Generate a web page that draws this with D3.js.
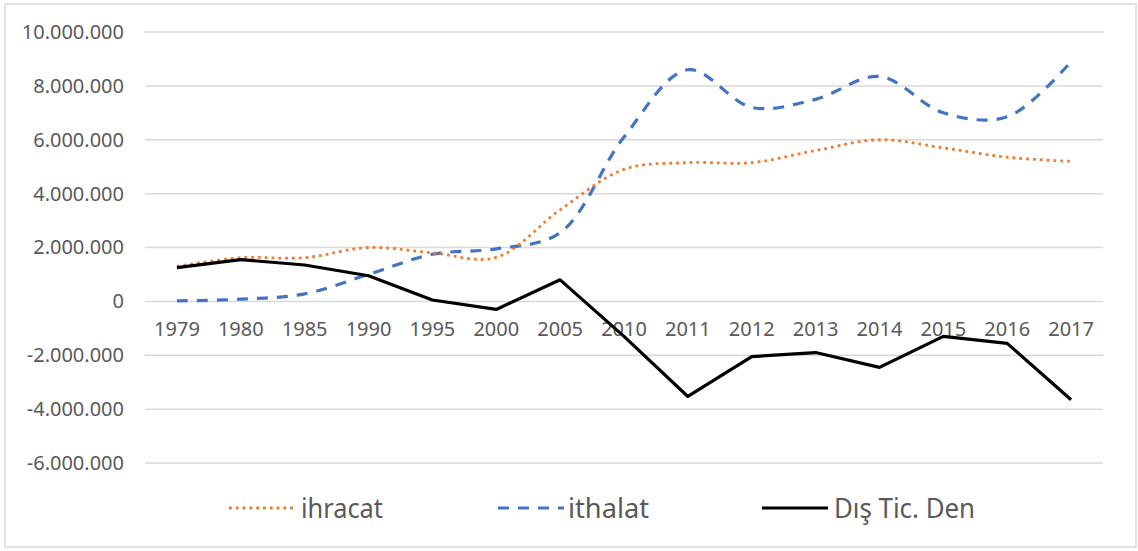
<!DOCTYPE html>
<html><head><meta charset="utf-8">
<script src="https://cdn.jsdelivr.net/npm/d3@7"></script>
<style>body{margin:0;background:#fff;} svg{display:block;}</style>
</head><body>
<svg id="c" width="1138" height="551"></svg>
<script>
const categories = ["1979","1980","1985","1990","1995","2000","2005","2010","2011","2012","2013","2014","2015","2016","2017"];
const ihracat = [1300000,1620000,1620000,2000000,1800000,1630000,3400000,4900000,5150000,5150000,5600000,6000000,5700000,5350000,5200000];
const ithalat = [20000,80000,280000,1000000,1750000,1950000,2550000,6100000,8600000,7200000,7500000,8350000,7000000,6850000,8900000];
const disTicDen = [1250000,1550000,1350000,950000,50000,-300000,800000,-1300000,-3530000,-2050000,-1900000,-2450000,-1300000,-1560000,-3650000];
const yTicks = [-6000000,-4000000,-2000000,0,2000000,4000000,6000000,8000000,10000000];
const seriesNames = ["ihracat","ithalat","Dış Tic. Den"];

const svg = d3.select("#c");
svg.append("rect").attr("x",5).attr("y",4).attr("width",1131).attr("height",543)
  .attr("fill","#fff").attr("stroke","#d9d9d9").attr("stroke-width",1.5);

const x = d3.scaleBand().domain(categories).range([145,1103]);
const y = d3.scaleLinear().domain([-6000000,10000000]).range([463,32]);
const fmt = v => d3.format(",")(v).replace(/,/g,".").replace(/\u2212/g,"-");

// gridlines
svg.append("g").selectAll("line").data(yTicks).join("line")
  .attr("x1",145).attr("x2",1103).attr("y1",d=>y(d)).attr("y2",d=>y(d))
  .attr("stroke","#d9d9d9").attr("stroke-width",1.5);

// y labels
const yAxis = svg.append("g").attr("transform","translate(124,0)")
  .call(d3.axisLeft(y).tickValues(yTicks).tickFormat(fmt).tickSize(0).tickPadding(0));
yAxis.select(".domain").remove();
yAxis.selectAll("text").attr("font-family","'Noto Sans'").attr("font-size",20).attr("fill","#595959");

// x labels at y=0 line
const xAxis = svg.append("g").attr("transform",`translate(0,${y(0)})`)
  .call(d3.axisBottom(x).tickSize(0).tickPadding(20));
xAxis.select(".domain").remove();
xAxis.selectAll("text").attr("font-family","'Noto Sans'").attr("font-size",20).attr("fill","#595959");

const cx = d => x(d) + x.bandwidth()/2;
const mkLine = (vals, curve) => d3.line().x((d,i)=>cx(categories[i])).y(d=>y(d)).curve(curve)(vals);

svg.append("path").attr("d",mkLine(ithalat,d3.curveCatmullRom.alpha(0.5)))
  .attr("fill","none").attr("stroke","#4472C4").attr("stroke-width",3.2)
  .attr("stroke-dasharray","11,9");
svg.append("path").attr("d",mkLine(ihracat,d3.curveCatmullRom.alpha(0.5)))
  .attr("fill","none").attr("stroke","#ED7D31").attr("stroke-width",2.8)
  .attr("stroke-dasharray","2.8,4");
svg.append("path").attr("d",mkLine(disTicDen,d3.curveLinear))
  .attr("fill","none").attr("stroke","#000").attr("stroke-width",3.2)
  .attr("stroke-linejoin","round");

// legend
const legend = [
  {name:seriesNames[0], color:"#ED7D31", dash:"2.8,4", w:2.8, lx:229, tx:301, tl:82},
  {name:seriesNames[1], color:"#4472C4", dash:"11,9", w:3.2, lx:498, tx:568, tl:81},
  {name:seriesNames[2], color:"#000", dash:null, w:3.2, lx:762, tx:834, tl:141}
];
const lg = svg.append("g");
legend.forEach(l=>{
  lg.append("line").attr("x1",l.lx).attr("x2",l.lx+66).attr("y1",508).attr("y2",508)
    .attr("stroke",l.color).attr("stroke-width",l.w).attr("stroke-dasharray",l.dash);
  lg.append("text").attr("x",l.tx).attr("y",518).text(l.name)
    .attr("font-family","'Noto Sans'").attr("font-size",27).attr("fill","#595959")
    .attr("textLength",l.tl).attr("lengthAdjust","spacingAndGlyphs");
});
</script>
</body></html>
